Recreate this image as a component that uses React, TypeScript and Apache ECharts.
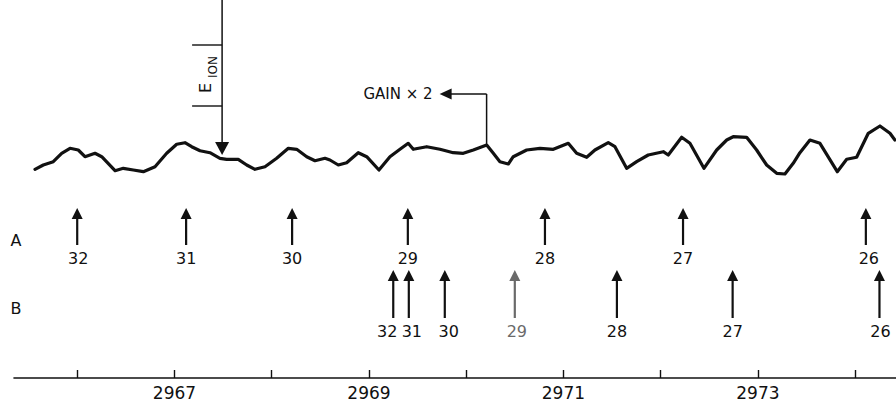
import React, { useEffect, useRef } from "react";
import * as echarts from "echarts";

// Trace: x in axis units, y = relative signal height
const traceX = [
  2965.566, 2965.651, 2965.754, 2965.84, 2965.926, 2966.011, 2966.08, 2966.183, 2966.252, 2966.389,
  2966.474, 2966.577, 2966.68, 2966.8, 2966.92, 2967.023, 2967.108, 2967.177, 2967.263, 2967.365,
  2967.468, 2967.537, 2967.656, 2967.743, 2967.828, 2967.931, 2968.051, 2968.171, 2968.257, 2968.36,
  2968.445, 2968.548, 2968.599, 2968.685, 2968.771, 2968.89, 2968.977, 2969.103, 2969.216, 2969.319,
  2969.404, 2969.456, 2969.594, 2969.73, 2969.867, 2969.97, 2970.073, 2970.211, 2970.279, 2970.347,
  2970.433, 2970.484, 2970.622, 2970.759, 2970.896, 2971.05, 2971.136, 2971.239, 2971.324, 2971.461,
  2971.53, 2971.65, 2971.753, 2971.872, 2972.027, 2972.078, 2972.216, 2972.301, 2972.445, 2972.576,
  2972.679, 2972.746, 2972.884, 2972.987, 2973.09, 2973.193, 2973.278, 2973.363, 2973.432, 2973.535,
  2973.638, 2973.816, 2973.913, 2974.015, 2974.135, 2974.255, 2974.358, 2974.409,
];
const traceY = [
  208.7, 213, 216.3, 224.7, 229.7, 228, 221.3, 224.7, 221.3, 207.3,
  209.7, 208, 206.3, 211.3, 224.7, 233.7, 235.3, 231.3, 227.3, 225.3,
  219.7, 218.7, 218.7, 213, 208.7, 211.3, 219.7, 229.7, 228.7, 221.3,
  217.3, 219.7, 218, 213, 215.3, 225.3, 221.3, 208, 221.3, 228.7,
  234.7, 228.7, 231.3, 228.7, 225.3, 224.7, 228, 233, 224.7, 216.3,
  214, 221.3, 228, 229.7, 228.7, 234.7, 224.7, 220.7, 228, 235.3,
  231.3, 209.7, 216.3, 223, 226.3, 223, 240.7, 234.7, 209.7, 228,
  238, 241.3, 240.7, 228, 213, 204.7, 204, 214.7, 225.3, 238,
  234.7, 206.3, 218.7, 220.7, 244.7, 252, 244.7, 238,
];

// Series A and B line positions with their quantum-number labels
const rowALabels = [32, 31, 30, 29, 28, 27, 26];
const rowAPositions = [2966.0, 2967.12, 2968.21, 2969.4, 2970.81, 2972.23, 2974.11];
const rowBLabels = [32, 31, 30, 29, 28, 27, 26];
const rowBPositions = [2969.25, 2969.41, 2969.78, 2970.5, 2971.55, 2972.74, 2974.25];

// Axis
const tickValues = [2966, 2967, 2968, 2969, 2970, 2971, 2972, 2973, 2974];
const tickLabels = [2967, 2969, 2971, 2973];

// Annotations
const ionEnergy = 2967.49;
const gainChange = 2970.21;

export default function App() {
  const ref = useRef<HTMLDivElement>(null);

  useEffect(() => {
    document.body.style.margin = "0";
    const chart = echarts.init(ref.current as HTMLDivElement, null, { renderer: "svg" });
    const font = '"DejaVu Sans", sans-serif';
    const ink = "#111111";
    const X_MIN = 2965.35;
    const X_MAX = 2974.42;
    const rowA = { tip: 170, tail: 133, label: 120 };
    const rowB = { tip: 108, tail: 60, label: 47 };
    const labelShiftB = [-6, 3, 4, 2, 0, 0, 1];
    const greyB = 3;

    const arrowSeries = (
      name: string,
      xs: number[],
      labels: number[],
      row: { tip: number; tail: number; label: number },
      shifts: number[],
      grey: number
    ) => ({
      type: "custom",
      name,
      coordinateSystem: "cartesian2d",
      silent: true,
      z: 5,
      data: xs.map((x, i) => [x, labels[i], i]),
      renderItem: (_p: any, api: any) => {
        const x = api.value(0);
        const lab = api.value(1);
        const i = api.value(2);
        const tip = api.coord([x, row.tip]);
        const tail = api.coord([x, row.tail]);
        const lp = api.coord([x, row.label]);
        const color = i === grey ? "#6a6a6a" : ink;
        const hh = 11;
        const hw = 5.5;
        return {
          type: "group",
          children: [
            {
              type: "line",
              shape: { x1: tip[0], y1: tip[1] + hh - 1, x2: tail[0], y2: tail[1] },
              style: { stroke: color, lineWidth: 2.2 },
            },
            {
              type: "polygon",
              shape: {
                points: [
                  [tip[0], tip[1]],
                  [tip[0] - hw, tip[1] + hh],
                  [tip[0] + hw, tip[1] + hh],
                ],
              },
              style: { fill: color },
            },
            {
              type: "text",
              x: lp[0] + (shifts[i] || 0),
              y: lp[1],
              style: {
                text: String(lab),
                fill: color,
                font: `16px ${font}`,
                align: "center",
                verticalAlign: "middle",
              },
            },
          ],
        };
      },
    });

    chart.setOption({
      animation: false,
      backgroundColor: "#ffffff",
      grid: { left: 14, right: 0, top: 0, bottom: 24, outerBoundsMode: "none", containLabel: false },
      xAxis: {
        type: "value",
        min: X_MIN,
        max: X_MAX,
        splitLine: { show: false },
        axisLine: { show: true, lineStyle: { color: ink, width: 1.6 } },
        axisTick: {
          show: true,
          inside: true,
          length: 8,
          customValues: tickValues,
          lineStyle: { color: ink, width: 1.4 },
        },
        axisLabel: {
          customValues: tickLabels,
          formatter: (v: number) => String(Math.round(v)),
          margin: 6,
          fontSize: 17,
          fontFamily: font,
          color: ink,
        },
      },
      yAxis: { type: "value", min: 0, max: 378, show: false },
      series: [
        {
          type: "line",
          name: "trace",
          data: traceX.map((x, i) => [x, traceY[i]]),
          showSymbol: false,
          symbol: "none",
          silent: true,
          lineStyle: { color: ink, width: 3.2, join: "round", cap: "round" },
          z: 3,
        },
        arrowSeries("A", rowAPositions, rowALabels, rowA, [1, 0, 0, 0, 0, 0, 3], -1),
        arrowSeries("B", rowBPositions, rowBLabels, rowB, labelShiftB, greyB),
      ],
    });

    const ix = chart.convertToPixel({ xAxisIndex: 0 }, ionEnergy) as number;
    const gx = chart.convertToPixel({ xAxisIndex: 0 }, gainChange) as number;
    const gy = chart.convertToPixel({ yAxisIndex: 0 }, 233) as number;
    const ionTipY = 155;
    const gainY = 94;

    chart.setOption({
      graphic: [
        { type: "text", x: 16, y: 240, style: { text: "A", font: `16px ${font}`, fill: ink, align: "center", verticalAlign: "middle" } },
        { type: "text", x: 16, y: 308, style: { text: "B", font: `16px ${font}`, fill: ink, align: "center", verticalAlign: "middle" } },
        // E ION arrow
        { type: "line", shape: { x1: ix, y1: 0, x2: ix, y2: ionTipY - 12 }, style: { stroke: ink, lineWidth: 1.5 } },
        {
          type: "polygon",
          shape: { points: [[ix, ionTipY], [ix - 7, ionTipY - 13], [ix + 7, ionTipY - 13]] },
          style: { fill: ink },
        },
        { type: "line", shape: { x1: ix - 30, y1: 45, x2: ix, y2: 45 }, style: { stroke: ink, lineWidth: 1.4 } },
        { type: "line", shape: { x1: ix - 30, y1: 106, x2: ix, y2: 106 }, style: { stroke: ink, lineWidth: 1.4 } },
        {
          type: "text",
          x: ix - 17,
          y: 88,
          rotation: Math.PI / 2,
          style: { text: "E", font: `16px ${font}`, fill: ink, align: "center", verticalAlign: "middle" },
        },
        {
          type: "text",
          x: ix - 9,
          y: 67,
          rotation: Math.PI / 2,
          style: { text: "ION", font: `12px ${font}`, fill: ink, align: "center", verticalAlign: "middle" },
        },
        // GAIN x 2 annotation
        { type: "line", shape: { x1: gx, y1: gy, x2: gx, y2: gainY }, style: { stroke: ink, lineWidth: 1.5 } },
        { type: "line", shape: { x1: gx, y1: gainY, x2: gx - 36, y2: gainY }, style: { stroke: ink, lineWidth: 1.5 } },
        {
          type: "polygon",
          shape: { points: [[gx - 47, gainY], [gx - 35, gainY - 5.5], [gx - 35, gainY + 5.5]] },
          style: { fill: ink },
        },
        {
          type: "text",
          x: gx - 54,
          y: gainY,
          style: { text: "GAIN × 2", font: `15px ${font}`, fill: ink, align: "right", verticalAlign: "middle" },
        },
      ],
    });

    return () => chart.dispose();
  }, []);

  return <div ref={ref} style={{ width: 896, height: 402 }} />;
}
